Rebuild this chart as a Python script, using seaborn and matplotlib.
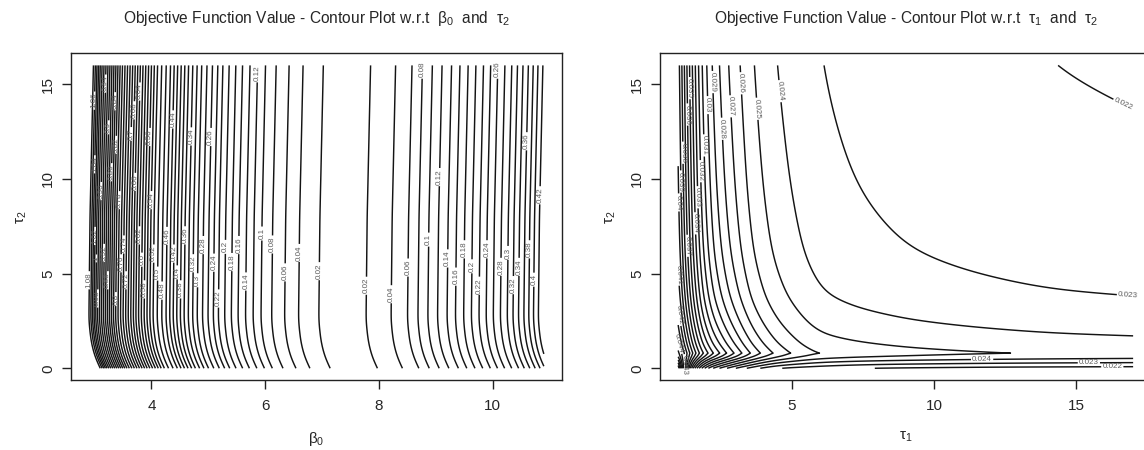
import numpy as np
import matplotlib
matplotlib.use("Agg")
import matplotlib.pyplot as plt
import seaborn as sns

# --- left panel : objective vs beta0 / tau2 ---
# beta0 where each level sits (read at mid height), and the level itself
beta0_knots = [2.86, 2.91, 3.015, 3.365, 3.77, 4.02, 4.26, 4.38, 4.57, 4.80, 5.09, 5.17,
               5.52, 5.92, 6.11, 6.34, 6.58, 6.93, 7.38, 7.78, 8.22, 8.51, 8.86, 9.20,
               9.49, 9.76, 10.01, 10.26, 10.55, 10.80, 10.95]
obj_beta0 = [1.10, 1.08, 1.00, 0.80, 0.62, 0.52, 0.46, 0.42, 0.36, 0.30, 0.24, 0.22,
             0.16, 0.10, 0.08, 0.06, 0.04, 0.02, 0.008, 0.02, 0.04, 0.06, 0.10, 0.14,
             0.18, 0.22, 0.26, 0.30, 0.36, 0.42, 0.45]
# how far the lines drift to the right along tau2 (bend at the bottom)
tau2_bend = [0.0, 0.5, 1.0, 1.5, 2.5, 8.0, 16.0]
beta0_shift = [0.20, 0.12, 0.07, 0.035, 0.0, 0.02, 0.08]

# --- right panel : objective vs tau1 / tau2 ---
# level crossings along the top edge (tau2 = 16)
tau1_top = [1.0, 1.05, 1.13, 1.22, 1.31, 1.40, 1.50, 1.60, 1.72, 1.83, 2.01, 2.18, 2.45,
            2.77, 3.18, 3.65, 4.45, 5.51, 6.02, 7.27, 9.25, 11.35, 14.2, 17.0]
obj_tau1 = [0.0395, 0.039, 0.038, 0.037, 0.036, 0.035, 0.034, 0.033, 0.032, 0.031, 0.030,
            0.029, 0.028, 0.027, 0.026, 0.025, 0.024, 0.0233, 0.023, 0.0227, 0.0224,
            0.0222, 0.022, 0.0219]
# rise of the objective when tau2 goes down (read on the right edge)
tau2_rise = [0.8, 1.0, 1.72, 2.2, 3.25, 3.77, 6.25, 9.77, 13.8, 16.0]
obj_rise = [0.0029, 0.0027, 0.0021, 0.0018, 0.0013, 0.0011, 0.0006, 0.0003, 0.0001, 0.0]
tau1_lean = [1.0, 2.0, 3.0, 4.0, 5.5, 17.0]
rise_factor = [2.0, 2.3, 1.9, 1.4, 1.0, 1.0]
# thin strip under the ridge (tau2 < 0.8) and the bottom edge values
tau2_floor = [0.0, 0.1, 0.3, 0.5, 0.65, 0.8]
floor_weight = [1.0, 0.85, 0.56, 0.27, 0.1, 0.0]
tau1_floor = [1.0, 1.5, 2.0, 3.0, 4.4, 7.6, 12.0, 17.0]
obj_floor = [0.050, 0.036, 0.030, 0.026, 0.023, 0.022, 0.0217, 0.0216]

levels_left = np.round(np.arange(0.02, 1.09, 0.02), 2)
levels_right = np.round(np.arange(0.022, 0.0505, 0.001), 3)


def smooth_curve(xk, yk, sigma, n=3000):
    # piecewise profile through the read points, softened so contours have no kinks
    xs = np.linspace(xk[0], xk[-1], n)
    ys = np.interp(xs, xk, yk)
    dx = xs[1] - xs[0]
    half = int(4 * sigma / dx)
    k = np.exp(-0.5 * (np.arange(-half, half + 1) * dx / sigma) ** 2)
    k /= k.sum()
    padded = np.pad(ys, half, mode="reflect", reflect_type="odd")
    return xs, np.convolve(padded, k, mode="valid")


def profile(x, xk, yk, sigma, log=False):
    if log:
        xs, ys = smooth_curve(np.log(xk), yk, sigma)
        return np.interp(np.log(x), xs, ys)
    xs, ys = smooth_curve(np.asarray(xk, float), yk, sigma)
    return np.interp(x, xs, ys)


def fmt_left(v):
    return f"{v:.2f}".rstrip("0").rstrip(".")


def fmt_right(v):
    return f"{v:.3f}".rstrip("0").rstrip(".")


sns.set_theme(style="ticks")
plt.rcParams["font.family"] = ["Liberation Sans", "DejaVu Sans"]
plt.rcParams["mathtext.default"] = "regular"

fig = plt.figure(figsize=(11.44, 4.5), dpi=100)
ax1 = fig.add_axes([0.0618, 0.1547, 0.4295, 0.7269])
ax2 = fig.add_axes([0.5769, 0.1547, 0.4295, 0.7269])

# field for the left panel
b0 = np.linspace(2.9, 10.9, 500)
t2 = np.linspace(0, 16, 500)
B, T = np.meshgrid(b0, t2)
Z1 = profile(B - profile(T, tau2_bend, beta0_shift, 0.3), beta0_knots, obj_beta0, 0.04)

# field for the right panel
t1 = np.linspace(1, 17, 700)
t2r = np.linspace(0, 16, 1000)
T1, T2 = np.meshgrid(t1, t2r)
top = profile(T1, tau1_top, obj_tau1, 0.06, log=True)
rise = profile(np.maximum(T2, 0.8), tau2_rise, obj_rise, 0.12, log=True)
lean = profile(T1, tau1_lean, rise_factor, 0.5)
upper = top + rise * lean
w = profile(T2, tau2_floor, floor_weight, 0.04)
floor = profile(T1, tau1_floor, obj_floor, 0.1, log=True)
Z2 = upper - w * (upper - floor)

cs1 = ax1.contour(B, T, Z1, levels=levels_left, colors="#141414", linewidths=1.05)
ax1.clabel(cs1, fmt=fmt_left, fontsize=5.8, colors="#5a5a5a", inline=True, inline_spacing=2)
cs2 = ax2.contour(T1, T2, Z2, levels=levels_right, colors="#141414", linewidths=1.05)
ax2.clabel(cs2, fmt=fmt_right, fontsize=5.8, colors="#5a5a5a", inline=True, inline_spacing=2)

ax1.set_xlim(2.58, 11.22)
ax2.set_xlim(0.36, 17.64)
for ax in (ax1, ax2):
    ax.set_ylim(-0.64, 16.64)
    ax.set_yticks([0, 5, 10, 15])
    ax.tick_params(axis="both", direction="out", length=6.3, width=1.0, color="#222222",
                   labelsize=11)
    ax.tick_params(axis="x", pad=7)
    ax.tick_params(axis="y", labelrotation=90, pad=5)
    for lab in ax.get_yticklabels():
        lab.set_va("center")
    for sp in ax.spines.values():
        sp.set_linewidth(1.0)
        sp.set_color("#222222")
    ax.set_ylabel(r"$\tau_2$", fontsize=11, labelpad=9)
ax1.set_xticks([4, 6, 8, 10])
ax2.set_xticks([5, 10, 15])
ax1.set_xlabel(r"$\beta_0$", fontsize=11, labelpad=12)
ax2.set_xlabel(r"$\tau_1$", fontsize=11, labelpad=12)

fig.text(0.2765, 1 - 18 / 450, r"Objective Function Value - Contour Plot w.r.t  $\beta_0$  and  $\tau_2$",
         ha="center", va="center", fontsize=11.2)
fig.text(0.7917, 1 - 18 / 450, r"Objective Function Value - Contour Plot w.r.t  $\tau_1$  and  $\tau_2$",
         ha="center", va="center", fontsize=11.2)

fig.savefig("out.png", dpi=100)
